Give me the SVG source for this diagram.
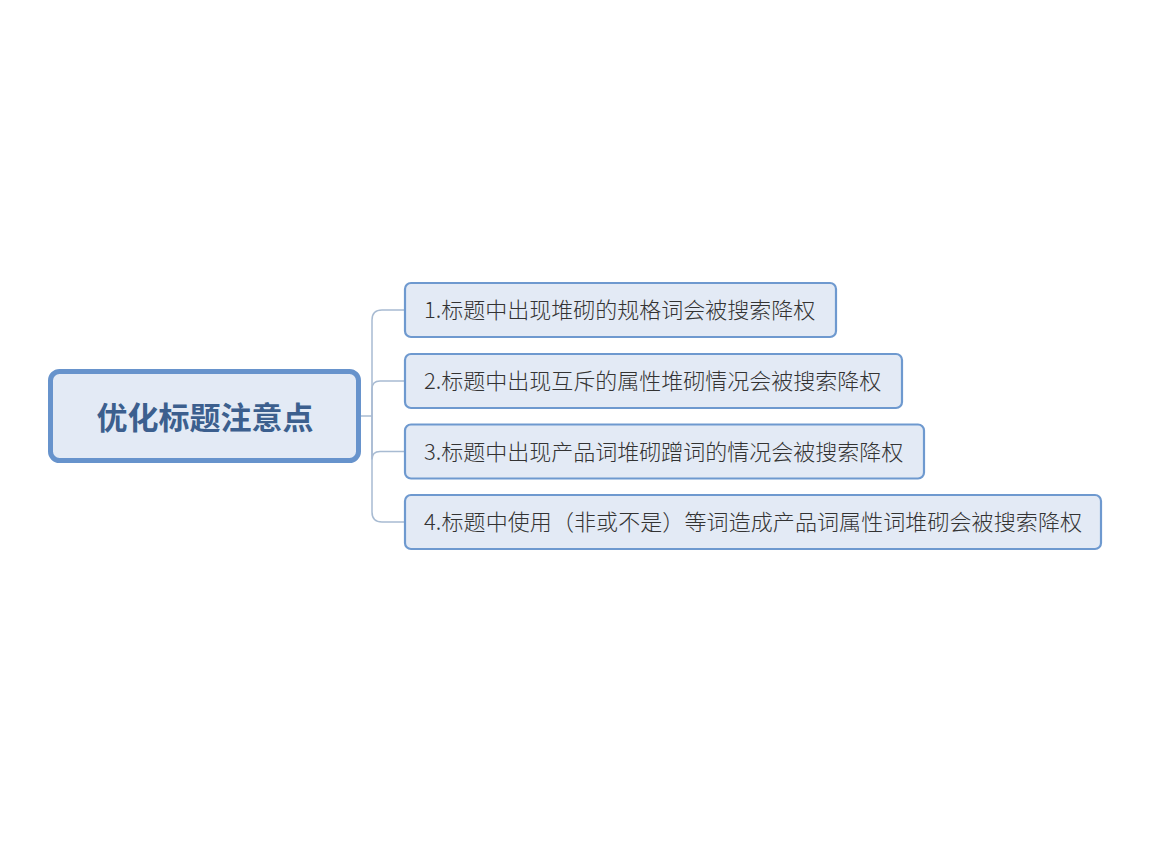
<svg xmlns="http://www.w3.org/2000/svg" width="1152" height="864" viewBox="0 0 1152 864">
<style>
.child rect{fill:#e3eaf5;stroke:#6e99cf;stroke-width:2.2}
.child text{font-family:"Noto Sans CJK SC","Noto Sans",sans-serif;font-size:22px;fill:#333;font-weight:300}
.root rect{fill:#e3eaf5;stroke:#6793cc;stroke-width:5}
.root text{font-family:"Noto Sans CJK SC","Noto Sans",sans-serif;font-size:31px;font-weight:bold;fill:#3c5f8e}
.conn path{fill:none;stroke:#a8bbd2;stroke-width:1.5}
</style>
<rect width="1152" height="864" fill="#fff"/>
<g class="conn" id="connectors">
<path d="M361,416 L372,416"/>
<path d="M372,416 L372,320 Q372,310 382,310 L405,310"/>
<path d="M372,416 L372,389 Q372,381 380,381 L405,381"/>
<path d="M372,416 L372,459.5 Q372,451.5 380,451.5 L405,451.5"/>
<path d="M372,416 L372,512 Q372,522 382,522 L405,522"/>
</g>
<g class="root" id="root">
<rect x="50.5" y="371.5" width="308" height="89" rx="9"/>
<text x="205" y="428.5" text-anchor="middle">优化标题注意点</text>
</g>
<g class="child" id="n1">
<rect x="405" y="283" width="431" height="54" rx="6"/>
<text x="424" y="318">1.标题中出现堆砌的规格词会被搜索降权</text>
</g>
<g class="child" id="n2">
<rect x="405" y="354" width="497" height="54" rx="6"/>
<text x="424" y="389">2.标题中出现互斥的属性堆砌情况会被搜索降权</text>
</g>
<g class="child" id="n3">
<rect x="405" y="424.5" width="519" height="54" rx="6"/>
<text x="424" y="459.5">3.标题中出现产品词堆砌蹭词的情况会被搜索降权</text>
</g>
<g class="child" id="n4">
<rect x="405" y="495" width="696" height="54" rx="6"/>
<text x="424" y="530" textLength="658" lengthAdjust="spacing">4.标题中使用（非或不是）等词造成产品词属性词堆砌会被搜索降权</text>
</g>
</svg>
